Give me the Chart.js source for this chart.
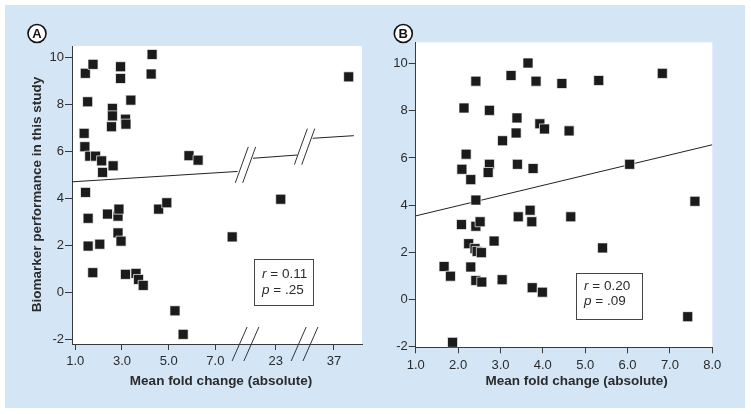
<!DOCTYPE html>
<html><head><meta charset="utf-8">
<script src="https://cdn.jsdelivr.net/npm/chart.js@4/dist/chart.umd.min.js"></script>
<style>
html,body{margin:0;padding:0;background:#fff;}
body{width:751px;height:414px;position:relative;overflow:hidden;}
#bg{position:absolute;left:5px;top:5px;width:740px;height:403px;background:#d4e5f5;}
#ca{position:absolute;left:0;top:0;}
#cb{position:absolute;left:375px;top:0;}
</style></head><body>
<div id="bg"></div>
<canvas id="ca" width="375" height="414"></canvas>
<canvas id="cb" width="376" height="414"></canvas>
<script>
// ---------------- DATA ----------------
// Panel A (x = mean fold change, original units; y = biomarker performance)
const aX = [1.43,1.76,2.94,2.94,4.29,4.25,1.53,3.38,2.59,2.59,2.55,3.15,3.17,1.38,1.41,1.62,1.87,2.13,2.17,2.62,5.87,6.26,1.44,
            1.55,2.38,2.83,2.87,2.83,2.96,1.55,2.05,1.75,3.15,3.60,3.71,3.91,4.57,4.92,5.27,5.62,7.72,23.21,37.63];
const aY = [9.31,9.69,9.59,9.09,10.11,9.28,8.10,8.17,7.82,7.50,7.04,7.36,7.15,6.76,6.19,5.79,5.79,5.59,5.10,5.38,5.81,5.62,4.25,
            3.15,3.33,3.24,3.54,2.53,2.18,1.97,2.05,0.84,0.77,0.81,0.55,0.30,3.54,3.81,-0.78,-1.78,2.36,3.96,9.16];
const aTickValues = [1, 3, 5, 7, 23, 37];
const aTickLabels = ['1.0', '3.0', '5.0', '7.0', '23', '37'];
const aYTicks = [-2, 0, 2, 4, 6, 8, 10];
const aTrendX = [[0.86, 7.95], [22.02, 23.93], [36.09, 37.85]];
const aTrendY = [[4.70, 5.14], [5.70, 5.84], [6.55, 6.66]];
const aStats = ['0.11', '.25'];

// Panel B
const bX = [2.42,3.25,3.65,3.84,4.45,2.14,2.74,3.39,3.93,4.04,3.37,3.05,2.19,2.09,2.30,2.74,2.71,3.40,3.77,2.42,3.70,4.62,5.32,6.82,6.05,7.59,4.66,5.41,7.42,
            2.08,2.42,2.52,3.42,3.74,2.85,2.25,2.40,2.45,2.55,1.67,1.82,2.30,2.42,2.56,3.04,3.75,3.99,1.87];
const bY = [9.26,9.50,10.03,9.26,9.16,8.12,8.02,7.70,7.45,7.23,7.06,6.73,6.16,5.52,5.08,5.73,5.38,5.73,5.55,4.21,3.78,7.15,9.29,9.59,5.73,4.16,3.50,2.18,-0.74,
            3.17,3.10,3.29,3.50,3.29,2.47,2.36,2.15,2.03,1.98,1.39,0.98,1.37,0.80,0.73,0.83,0.49,0.30,-1.83];
const bTickValues = [1, 2, 3, 4, 5, 6, 7, 8];
const bYTicks = [-2, 0, 2, 4, 6, 8, 10];
const bTrendX = [1, 8];
const bTrendY = [3.54, 6.56];
const bStats = ['0.20', '.09'];

// ---------------- LAYOUT / STYLE ----------------
const FONT = '"Liberation Sans", Arial, Helvetica, sans-serif';
const TXT = '#2b2b2b';
const AX = '#3a3a3a';
const MARK = '#1b1b1b';

// broken x axis of panel A: each piece of the value range is shifted onto a continuous axis
const aPieces = [{lo: -Infinity, hi: 15, shift: 0}, {lo: 15, hi: 30, shift: 13.41}, {lo: 30, hi: Infinity, shift: 24.92}];
function aPos(x) { for (const p of aPieces) { if (x >= p.lo && x < p.hi) return x - p.shift; } return x; }
const aBreaks = [8.29, 10.82];

function pts(xs, ys, f) { return xs.map((x, i) => ({x: f ? f(x) : x, y: ys[i]})); }

function scatterSet(data) {
  return {data, pointStyle: 'rect', pointRadius: 7.1, pointHoverRadius: 7.1,
          backgroundColor: MARK, borderColor: '#ffffff', pointBorderWidth: 0.7, showLine: false};
}
function lineSet(data) {
  return {data, showLine: true, pointRadius: 0, borderColor: '#222', borderWidth: 1, fill: false, tension: 0};
}

function italicStat(ctx, x, y, letter, rest) {
  ctx.font = 'italic 13.5px ' + FONT;
  ctx.textAlign = 'left'; ctx.textBaseline = 'middle';
  ctx.fillText(letter, x, y);
  const w = ctx.measureText(letter).width;
  ctx.font = '13.5px ' + FONT;
  ctx.fillText(rest, x + w, y);
}

function panelPlugin(cfg) {
  return {
    id: 'panel' + cfg.letter,
    beforeDraw(chart) {
      const {ctx, chartArea: a} = chart;
      ctx.save();
      ctx.fillStyle = '#ffffff';
      ctx.fillRect(a.left, a.top, a.right - a.left, a.bottom - a.top);
      ctx.restore();
    },
    afterDraw(chart) {
      const ctx = chart.ctx, ox = cfg.offsetX;
      const xs = chart.scales.x, ys = chart.scales.y;
      ctx.save();
      // circled panel letter
      ctx.beginPath();
      ctx.arc(cfg.circle[0] - ox, cfg.circle[1], 9, 0, Math.PI * 2);
      ctx.fillStyle = '#fff'; ctx.fill();
      ctx.lineWidth = 1.6; ctx.strokeStyle = '#111'; ctx.stroke();
      ctx.fillStyle = '#111'; ctx.font = 'bold 13px ' + FONT;
      ctx.textAlign = 'center'; ctx.textBaseline = 'middle';
      ctx.fillText(cfg.letter, cfg.circle[0] - ox, cfg.circle[1] + 0.5);
      // x title
      ctx.fillStyle = TXT; ctx.font = 'bold 13.5px ' + FONT;
      ctx.fillText('Mean fold change (absolute)', cfg.xTitle[0] - ox, cfg.xTitle[1]);
      // y title
      if (cfg.yTitle) {
        ctx.save();
        ctx.translate(cfg.yTitle[0] - ox, cfg.yTitle[1]);
        ctx.rotate(-Math.PI / 2);
        ctx.fillText('Biomarker performance in this study', 0, 0);
        ctx.restore();
      }
      // stats box
      const b = cfg.box;
      ctx.fillStyle = '#fff'; ctx.fillRect(b[0] - ox, b[1], b[2] - b[0], b[3] - b[1]);
      ctx.strokeStyle = '#444'; ctx.lineWidth = 1;
      ctx.strokeRect(Math.round(b[0] - ox) + 0.5, Math.round(b[1]) + 0.5, Math.round(b[2] - b[0]), Math.round(b[3] - b[1]));
      ctx.fillStyle = TXT;
      italicStat(ctx, cfg.text[0] - ox, cfg.text[1], 'r', ' = ' + cfg.stats[0]);
      italicStat(ctx, cfg.text[0] - ox, cfg.text[2], 'p', ' = ' + cfg.stats[1]);
      // axis breaks
      if (cfg.breaks) {
        ctx.strokeStyle = '#333'; ctx.lineWidth = 1;
        const slash = (cx, cy, dx, dy) => {
          ctx.beginPath(); ctx.moveTo(cx - dx, cy + dy); ctx.lineTo(cx + dx, cy - dy); ctx.stroke();
        };
        cfg.breaks.forEach((bv, i) => {
          const px = xs.getPixelForValue(bv);
          // on the x axis
          slash(px - 5.9, ys.bottom, 7.5, 17);
          slash(px + 5.9, ys.bottom, 7.5, 17);
          // on the trend line
          const yMid = (cfg.trendY[i][1] + cfg.trendY[i + 1][0]) / 2;
          const py = ys.getPixelForValue(yMid);
          slash(px - 3.7, py, 6.5, 18);
          slash(px + 3.7, py, 6.5, 18);
        });
      }
      ctx.restore();
    }
  };
}

function axisX(min, max, ticksArr, labelFn, h) {
  return {
    type: 'linear', min, max,
    afterBuildTicks: s => { s.ticks = ticksArr.map(v => ({value: v})); },
    afterFit: s => { s.height = h; },
    grid: {drawOnChartArea: false, drawTicks: true, tickLength: 6, tickColor: AX, tickWidth: 1},
    border: {display: true, color: AX, width: 1},
    ticks: {color: TXT, font: {family: FONT, size: 13}, padding: 4, autoSkip: false, maxRotation: 0,
            callback: (v, i) => labelFn(v, i)}
  };
}
function axisY(min, max, ticksArr, w) {
  return {
    type: 'linear', min, max,
    afterBuildTicks: s => { s.ticks = ticksArr.map(v => ({value: v})); },
    afterFit: s => { s.width = w; },
    grid: {drawOnChartArea: false, drawTicks: true, tickLength: 7, tickColor: AX, tickWidth: 1},
    border: {display: true, color: AX, width: 1},
    ticks: {color: TXT, font: {family: FONT, size: 13}, padding: 1, callback: v => String(v)}
  };
}

const common = {
  responsive: false, animation: false, devicePixelRatio: 1,
  plugins: {legend: {display: false}, tooltip: {enabled: false}, title: {display: false}},
  events: []
};

// Panel A chart
new Chart(document.getElementById('ca'), {
  type: 'scatter',
  data: {datasets: [
    scatterSet(pts(aX, aY, aPos)),
    ...aTrendX.map((seg, i) => lineSet(pts(seg, aTrendY[i], aPos)))
  ]},
  options: Object.assign({}, common, {
    layout: {padding: {left: 0, right: 13, top: 46, bottom: 30}},
    scales: {
      x: axisX(aPos(0.86), aPos(38.2), aTickValues.map(aPos), (v, i) => aTickLabels[i], 40),
      y: axisY(-2.19, 10.47, aYTicks, 72)
    }
  }),
  plugins: [panelPlugin({letter: 'A', offsetX: 0, circle: [37, 33.5], xTitle: [221, 381], yTitle: [37, 194.5],
    box: [254.3, 259.3, 313.5, 305.5], text: [262, 274.5, 290.5], stats: aStats, breaks: aBreaks, trendY: aTrendY})]
});

// Panel B chart
new Chart(document.getElementById('cb'), {
  type: 'scatter',
  data: {datasets: [
    scatterSet(pts(bX, bY)),
    lineSet(pts(bTrendX, bTrendY))
  ]},
  options: Object.assign({}, common, {
    layout: {padding: {left: 0, right: 38.7, top: 42.3, bottom: 26.7}},
    scales: {
      x: axisX(1, 8, bTickValues, v => v.toFixed(1), 40),
      y: axisY(-2.04, 10.91, bYTicks, 40.7)
    }
  }),
  plugins: [panelPlugin({letter: 'B', offsetX: 375, circle: [403.3, 33.5], xTitle: [576.7, 381.5], yTitle: null,
    box: [575.7, 272.5, 641.3, 318.3], text: [584, 286.7, 301.7], stats: bStats, breaks: null})]
});
</script>
</body></html>
